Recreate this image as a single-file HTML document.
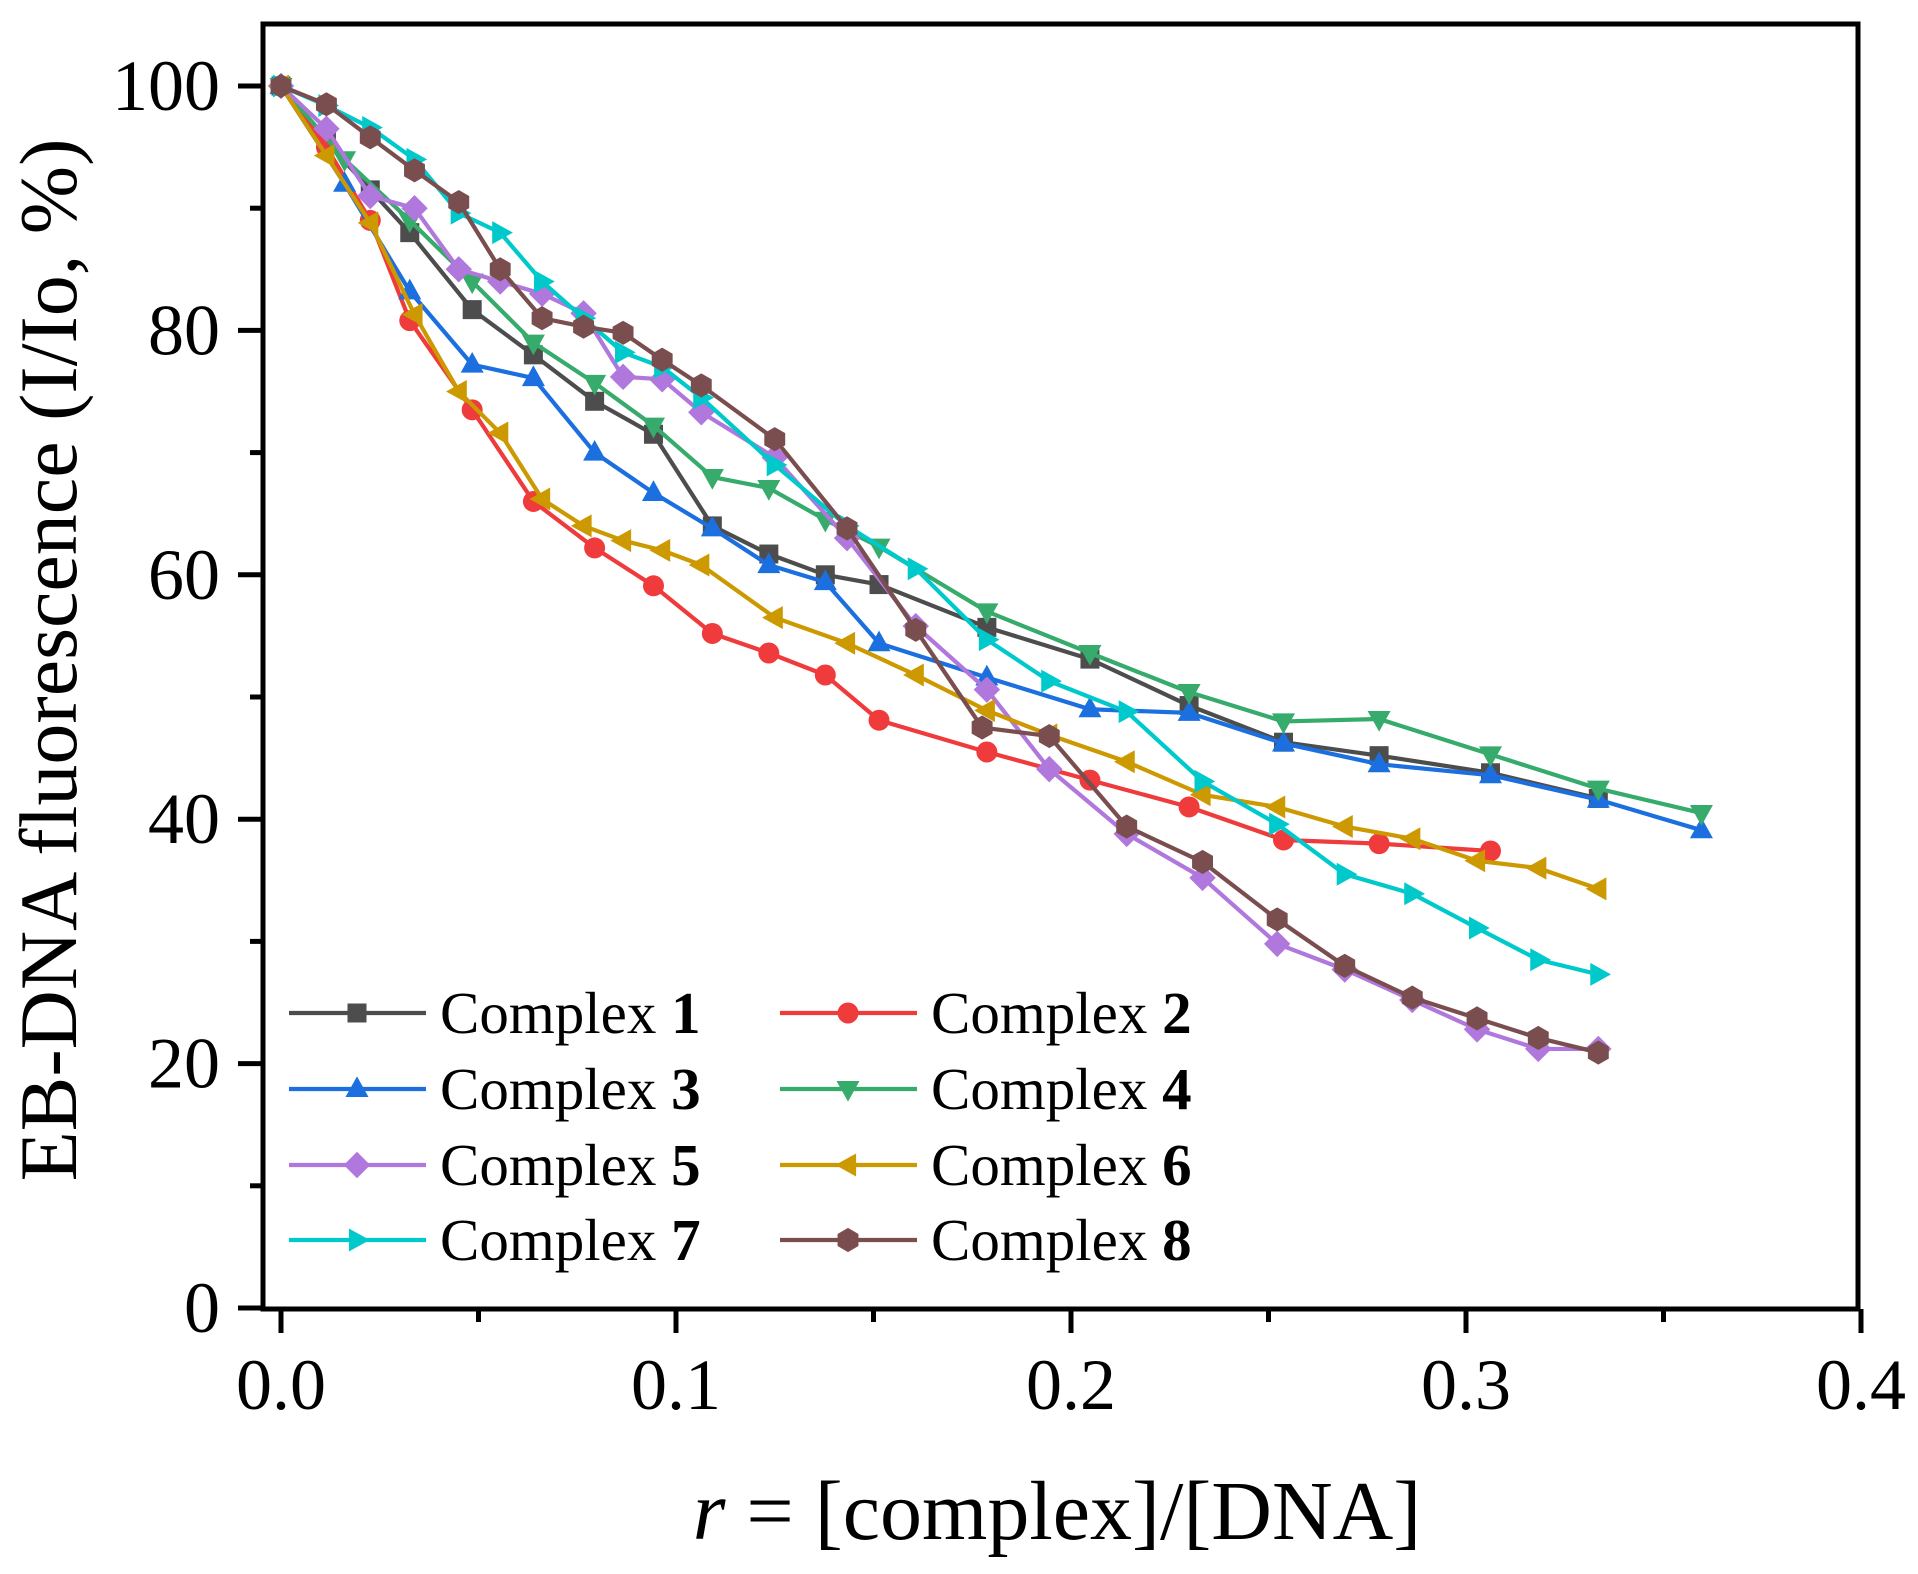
<!DOCTYPE html>
<html><head><meta charset="utf-8"><style>
html,body{margin:0;padding:0;background:#fff;}
svg{display:block;font-family:"Liberation Serif",serif;}
</style></head><body>
<svg id="chart" width="1918" height="1574" viewBox="0 0 1918 1574" xmlns="http://www.w3.org/2000/svg">
<g id="series-layer"></g>
<rect x="263" y="24" width="1595" height="1285" fill="none" stroke="#000" stroke-width="5"/>
<g id="axes"></g>
<text transform="translate(76,660) rotate(-90)" text-anchor="middle" font-size="82">EB-DNA fluorescence (I/Io, %)</text>
<text x="1057" y="1539" text-anchor="middle" font-size="84"><tspan font-style="italic">r</tspan> = [complex]/[DNA]</text>
<g id="legend"></g>
</svg>
<script>
const xTicks=[0,0.1,0.2,0.3,0.4];
const xTickLabels=["0.0","0.1","0.2","0.3","0.4"];
const yTicks=[0,20,40,60,80,100];
const yTickLabels=["0","20","40","60","80","100"];
const seriesNames=["1","2","3","4","5","6","7","8"];
const seriesColors=["#4d4d4d","#ef3b3b","#1b6fdf","#37ab6b","#b077dd","#cc9900","#00c9cb","#7a4e4e"];
const seriesMarkers=["square","circle","up","down","diamond","left","right","hex"];
const x1=[0,0.0115,0.0226,0.0326,0.0484,0.0639,0.0794,0.0943,0.1092,0.1235,0.1378,0.1514,0.1787,0.2048,0.2299,0.2538,0.278,0.3062,0.3335];
const y1=[100,95.5,91.5,88,81.7,78,74.2,71.5,64,61.7,60,59.2,55.7,53.1,49.3,46.3,45.2,43.8,41.7];
const x2=[0,0.0115,0.0226,0.0326,0.0484,0.0639,0.0794,0.0943,0.1092,0.1235,0.1378,0.1514,0.1787,0.2048,0.2299,0.2538,0.278,0.3062];
const y2=[100,95,89,80.8,73.5,66,62.2,59.1,55.2,53.6,51.8,48.1,45.5,43.2,41,38.3,38,37.4];
const x3=[0,0.0161,0.0326,0.0484,0.0639,0.0794,0.0943,0.1092,0.1235,0.1378,0.1514,0.1787,0.2048,0.2299,0.2538,0.278,0.3062,0.3335,0.3596];
const y3=[100,92,83.2,77.2,76.1,70,66.7,63.8,60.8,59.4,54.4,51.6,49,48.7,46.2,44.5,43.6,41.6,39.1];
const x4=[0,0.0161,0.0326,0.0484,0.0639,0.0794,0.0943,0.1092,0.1235,0.1378,0.1514,0.1787,0.2048,0.2299,0.2538,0.278,0.3062,0.3335,0.3596];
const y4=[100,94,89,84,79,75.7,72.2,68,67.1,64.5,62.3,57,53.6,50.4,48,48.2,45.3,42.5,40.5];
const x5=[0,0.0115,0.0226,0.0338,0.045,0.0555,0.0661,0.0766,0.0866,0.0965,0.1064,0.125,0.1433,0.1607,0.1787,0.1945,0.2141,0.2333,0.2522,0.2693,0.2864,0.3028,0.3183,0.3335];
const y5=[100,96.5,91,90,85,84,83,81.4,76.2,76,73.3,69.6,63,55.8,50.6,44.1,38.8,35.2,29.8,27.7,25.2,22.8,21.2,21.2];
const x6=[0,0.0115,0.0226,0.0338,0.045,0.0555,0.0661,0.0766,0.0866,0.0965,0.1064,0.125,0.1433,0.1607,0.1787,0.1945,0.2141,0.2333,0.2522,0.2693,0.2864,0.3028,0.3183,0.3335];
const y6=[100,94.3,88.8,81.3,75,71.6,66.2,64,62.8,62,60.8,56.5,54.4,51.8,48.9,46.9,44.7,42,41,39.4,38.4,36.6,36,34.3];
const x7=[0,0.0115,0.0226,0.0338,0.045,0.0555,0.0661,0.0766,0.0866,0.0965,0.1064,0.125,0.1433,0.1607,0.1787,0.1945,0.2141,0.2333,0.2522,0.2693,0.2864,0.3028,0.3183,0.3335];
const y7=[100,98.4,96.6,94,89.6,88,84,81,78.2,77,74.5,69,64,60.5,54.7,51.3,48.8,43.1,39.6,35.5,33.9,31.1,28.5,27.3];
const x8=[0,0.0115,0.0226,0.0338,0.045,0.0555,0.0661,0.0766,0.0866,0.0965,0.1064,0.125,0.1433,0.1607,0.1775,0.1945,0.2141,0.2333,0.2522,0.2693,0.2864,0.3028,0.3183,0.3335];
const y8=[100,98.5,95.8,93.1,90.5,85,81,80.3,79.8,77.6,75.5,71.1,63.8,55.5,47.5,46.8,39.4,36.5,31.8,28,25.4,23.7,22.1,20.9];
const xsAll=[x1,x2,x3,x4,x5,x6,x7,x8];
const ysAll=[y1,y2,y3,y4,y5,y6,y7,y8];

const NS="http://www.w3.org/2000/svg";
const X0=281, XS=3950, Y0=1308, YS=12.22;
function sx(v){return X0+v*XS;}
function sy(v){return Y0-v*YS;}
function mk(tag,attrs,parent){const e=document.createElementNS(NS,tag);for(const k in attrs)e.setAttribute(k,attrs[k]);parent.appendChild(e);return e;}
function marker(type,cx,cy,color,parent){
  const r=11.5;let e;
  if(type==="square") e=mk("rect",{x:cx-9.5,y:cy-9.5,width:19,height:19,fill:color},parent);
  else if(type==="circle") e=mk("circle",{cx:cx,cy:cy,r:10.5,fill:color},parent);
  else {
    let pts;
    if(type==="up") pts=[[0,-r*1.1],[r,r*0.7],[-r,r*0.7]];
    else if(type==="down") pts=[[0,r*1.1],[r,-r*0.7],[-r,-r*0.7]];
    else if(type==="left") pts=[[-r*1.1,0],[r*0.7,-r],[r*0.7,r]];
    else if(type==="right") pts=[[r*1.1,0],[-r*0.7,-r],[-r*0.7,r]];
    else if(type==="diamond") pts=[[0,-r*1.15],[r*1.15,0],[0,r*1.15],[-r*1.15,0]];
    else {pts=[];for(let i=0;i<6;i++){const a=Math.PI/6+i*Math.PI/3;pts.push([r*1.05*Math.cos(a),r*1.05*Math.sin(a)]);}}
    e=mk("polygon",{points:pts.map(p=>(cx+p[0])+","+(cy+p[1])).join(" "),fill:color},parent);
  }
  return e;
}
const sl=document.getElementById("series-layer");
for(let s=0;s<8;s++){
  const g=mk("g",{},sl);
  
  
  const xs=xsAll[s],ys=ysAll[s];
  const line=mk("polyline",{points:xs.map((v,i)=>sx(v)+","+sy(ys[i])).join(" "),fill:"none",stroke:seriesColors[s],"stroke-width":4.2,"stroke-linejoin":"round"},g);
  
  
  for(let i=0;i<xs.length;i++){
    const m=marker(seriesMarkers[s],sx(xs[i]),sy(ys[i]),seriesColors[s],g);
    
    
  }
}
const ax=document.getElementById("axes");
xTicks.forEach((v,i)=>{
  const t=mk("line",{x1:sx(v),x2:sx(v),y1:1309,y2:1333,stroke:"#000","stroke-width":5},ax);
  
  
  const l=mk("text",{x:sx(v),y:1409,"text-anchor":"middle","font-size":72},ax);
  l.textContent=xTickLabels[i];
  
  
  if(i<xTicks.length-1){
    const m=mk("line",{x1:sx(v+0.05),x2:sx(v+0.05),y1:1309,y2:1322,stroke:"#000","stroke-width":5},ax);
    
    
  }
});
yTicks.forEach((v,i)=>{
  const t=mk("line",{x1:238,x2:263,y1:sy(v),y2:sy(v),stroke:"#000","stroke-width":5},ax);
  
  
  const l=mk("text",{x:220,y:sy(v)+24,"text-anchor":"end","font-size":72},ax);
  l.textContent=yTickLabels[i];
  
  
  if(i<yTicks.length-1){
    const m=mk("line",{x1:250,x2:263,y1:sy(v+10),y2:sy(v+10),stroke:"#000","stroke-width":5},ax);
    
    
  }
});
const lg=document.getElementById("legend");
const rowsY=[1013,1089,1165,1240];
for(let s=0;s<8;s++){
  const col=s%2,row=Math.floor(s/2);
  const lx=col===0?289:780,y=rowsY[row];
  const g=mk("g",{},lg);
  
  
  mk("line",{x1:lx,x2:lx+137,y1:y,y2:y,stroke:seriesColors[s],"stroke-width":4.2},g);
  marker(seriesMarkers[s],lx+68,y,seriesColors[s],g);
  const t=mk("text",{x:lx+151,y:y+20,"font-size":59},g);
  t.innerHTML='Complex <tspan font-weight="bold">'+seriesNames[s]+'</tspan>';
}
</script>
</body></html>
